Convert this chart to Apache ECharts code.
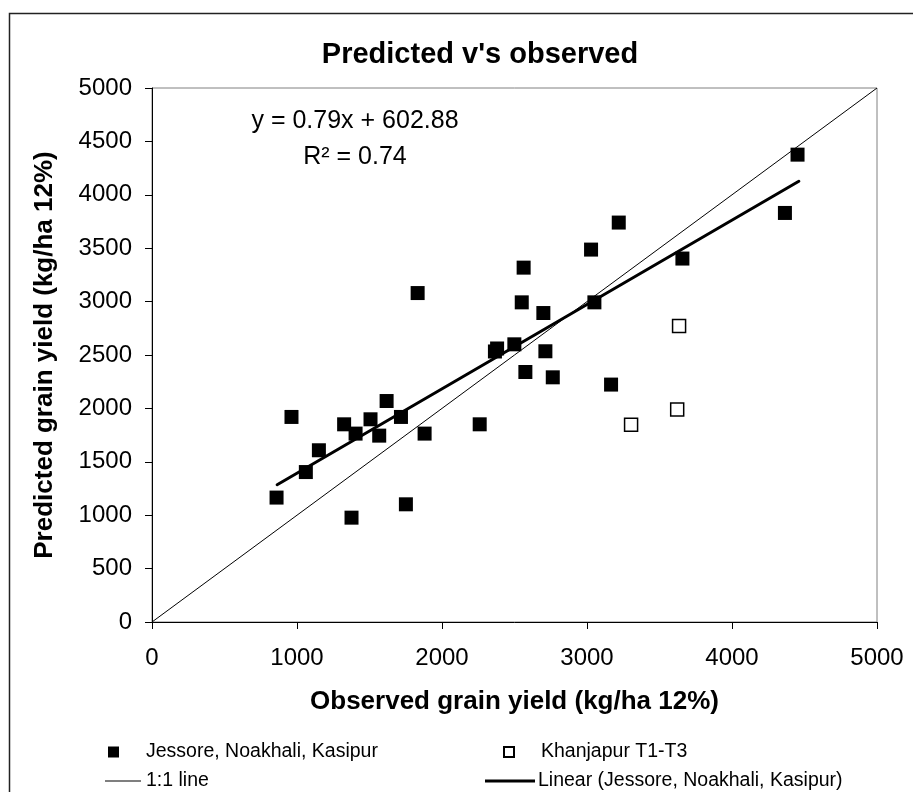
<!DOCTYPE html>
<html>
<head>
<meta charset="utf-8">
<script src="https://cdn.jsdelivr.net/npm/echarts@6/dist/echarts.min.js"></script>
<style>
  html, body { margin: 0; padding: 0; background: #fff; }
  #chart { width: 913px; height: 792px; }
</style>
</head>
<body>
<div id="chart"></div>
<script>
// ---- Data ----
const jessoreObserved  = [859, 962, 1061, 1151, 1325, 1376, 1404, 1507, 1567, 1618, 1717, 1751, 1832, 1880, 2260, 2365, 2380, 2499, 2550, 2563, 2575, 2699, 2713, 2764, 3028, 3051, 3166, 3219, 3658, 4365, 4452];
const jessorePredicted = [1165, 1920, 1404, 1608, 1851, 977, 1764, 1898, 1745, 2069, 1920, 1102, 3080, 1764, 1851, 2533, 2561, 2600, 2993, 3318, 2341, 2893, 2535, 2291, 3487, 2993, 2223, 3740, 3403, 3830, 4376];
const khanjapurObserved  = [3304, 3622, 3635];
const khanjapurPredicted = [1848, 1989, 2772];
const oneToOneObserved  = [0, 5000];
const oneToOnePredicted = [0, 5000];
const trendObserved  = [863, 4461];
const trendPredicted = [1285, 4127];

const seriesNames = ['Jessore, Noakhali, Kasipur', 'Khanjapur T1-T3', '1:1 line', 'Linear (Jessore, Noakhali, Kasipur)'];
const chartTitle = "Predicted v's observed";
const xAxisTitle = 'Observed grain yield (kg/ha 12%)';
const yAxisTitle = 'Predicted grain yield (kg/ha 12%)';
const equationText = 'y = 0.79x + 602.88';
const r2Text = 'R² = 0.74';
const axisMin = 0, axisMax = 5000, xStep = 1000, yStep = 500;

const zip = (a, b) => a.map((v, i) => [v, b[i]]);
const FONT = '"Liberation Sans", Arial, sans-serif';
const plainNumber = v => String(v);

const chart = echarts.init(document.getElementById('chart'), null, { renderer: 'canvas' });

const legendText = { fontFamily: FONT, fontSize: 19.5, color: '#000' };
const legendBase = { orient: 'horizontal', itemGap: 0, selectedMode: false };

chart.setOption({
  animation: false,
  backgroundColor: '#fff',
  title: {
    text: chartTitle,
    left: 475, top: 35, textAlign: 'center',
    textStyle: { fontFamily: FONT, fontSize: 29, fontWeight: 'bold', color: '#000' }
  },
  grid: {
    left: 152, right: 36, top: 88, bottom: 170,
    show: true, borderColor: '#808080', borderWidth: 1, backgroundColor: '#fff'
  },
  xAxis: {
    type: 'value', min: axisMin, max: axisMax, interval: xStep,
    name: xAxisTitle, nameLocation: 'middle', nameGap: 67,
    nameTextStyle: { fontFamily: FONT, fontSize: 26, fontWeight: 'bold', color: '#000' },
    axisLine: { show: true, onZero: false, lineStyle: { color: '#000', width: 1 } },
    axisTick: { show: true, inside: false, length: 7, lineStyle: { color: '#000' } },
    axisLabel: { margin: 24, fontFamily: FONT, fontSize: 24, color: '#000', formatter: plainNumber },
    splitLine: { show: false }
  },
  yAxis: {
    type: 'value', min: axisMin, max: axisMax, interval: yStep,
    name: yAxisTitle, nameLocation: 'middle', nameGap: 94,
    nameTextStyle: { fontFamily: FONT, fontSize: 26, fontWeight: 'bold', color: '#000' },
    axisLine: { show: true, onZero: false, lineStyle: { color: '#000', width: 1 } },
    axisTick: { show: true, inside: false, length: 7, lineStyle: { color: '#000' } },
    axisLabel: { margin: 20, fontFamily: FONT, fontSize: 24, color: '#000', formatter: plainNumber },
    splitLine: { show: false }
  },
  legend: [
    Object.assign({}, legendBase, {
      data: [seriesNames[0]], left: 103, top: 737, itemWidth: 11, itemHeight: 11,
      textStyle: Object.assign({}, legendText, { padding: [0, 0, 0, 22] })
    }),
    Object.assign({}, legendBase, {
      data: [seriesNames[1]], left: 498, top: 737, itemWidth: 10, itemHeight: 10,
      textStyle: Object.assign({}, legendText, { padding: [0, 0, 0, 22] })
    }),
    Object.assign({}, legendBase, {
      data: [{ name: seriesNames[2], icon: 'rect' }], left: 100, top: 766, itemWidth: 36, itemHeight: 1,
      textStyle: legendText
    }),
    Object.assign({}, legendBase, {
      data: [{ name: seriesNames[3], icon: 'rect' }], left: 480, top: 766, itemWidth: 50, itemHeight: 3,
      textStyle: Object.assign({}, legendText, { padding: [0, 0, 0, -2] })
    })
  ],
  series: [
    {
      name: seriesNames[0], type: 'scatter', symbol: 'rect', symbolSize: 14,
      itemStyle: { color: '#000', opacity: 1 },
      data: zip(jessoreObserved, jessorePredicted), z: 2
    },
    {
      name: seriesNames[1], type: 'scatter', symbol: 'rect', symbolSize: 13,
      itemStyle: { color: '#fff', borderColor: '#000', borderWidth: 1.5, opacity: 1 },
      data: zip(khanjapurObserved, khanjapurPredicted), z: 2
    },
    {
      name: seriesNames[2], type: 'line', symbol: 'none',
      lineStyle: { color: '#000', width: 1 }, itemStyle: { color: '#000' },
      data: zip(oneToOneObserved, oneToOnePredicted), z: 3
    },
    {
      name: seriesNames[3], type: 'line', symbol: 'none',
      lineStyle: { color: '#000', width: 3, cap: 'round' }, itemStyle: { color: '#000' },
      data: zip(trendObserved, trendPredicted), z: 4
    }
  ],
  graphic: [
    {
      type: 'rect', left: 7, top: 11, z: 100, silent: true,
      shape: { width: 1000, height: 1000 },
      style: { fill: 'none', stroke: '#222', lineWidth: 1.5 }
    },
    {
      type: 'text', x: 355, y: 121, z: 50,
      style: { text: equationText, fontFamily: FONT, fontSize: 25, fill: '#000', align: 'center', verticalAlign: 'middle' }
    },
    {
      type: 'text', x: 355, y: 157, z: 50,
      style: { text: r2Text, fontFamily: FONT, fontSize: 25, fill: '#000', align: 'center', verticalAlign: 'middle' }
    }
  ]
});
</script>
</body>
</html>
